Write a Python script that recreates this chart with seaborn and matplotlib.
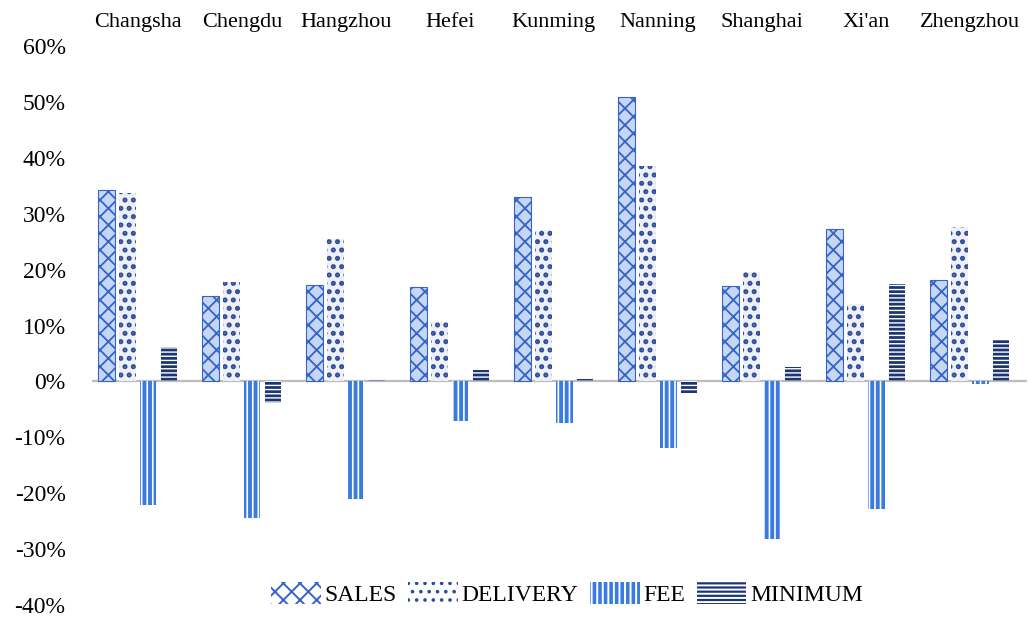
import matplotlib
matplotlib.use("Agg")
import matplotlib.pyplot as plt
import matplotlib.patches as mpatches
from matplotlib.ticker import FuncFormatter
import pandas as pd
import seaborn as sns

cities = ["Changsha", "Chengdu", "Hangzhou", "Hefei", "Kunming",
          "Nanning", "Shanghai", "Xi'an", "Zhengzhou"]
series = ["SALES", "DELIVERY", "FEE", "MINIMUM"]
sales = [34.3, 15.2, 17.3, 16.8, 32.9, 50.9, 17.0, 27.3, 18.1]
delivery = [33.7, 17.7, 25.5, 10.7, 27.1, 38.6, 19.6, 13.8, 27.6]
fee = [-22.1, -24.5, -21.1, -7.1, -7.5, -12.0, -28.2, -22.8, -0.4]
minimum = [6.2, -3.8, 0.2, 2.0, 0.5, -2.0, 2.5, 17.5, 7.4]
yticks = [-40, -30, -20, -10, 0, 10, 20, 30, 40, 50, 60]

sns.set_theme(style="white")
plt.rcParams["font.family"] = ["Liberation Serif", "DejaVu Serif"]
plt.rcParams["text.color"] = "black"
plt.rcParams["xtick.color"] = "black"
plt.rcParams["ytick.color"] = "black"
plt.rcParams["hatch.linewidth"] = 1.4

df = pd.DataFrame({
    "city": cities * 4,
    "series": [s for s in series for _ in cities],
    "value": sales + delivery + fee + minimum,
})

styles = {
    "SALES": dict(face="#c6d6f5", hatch="xx", hcol="#3563c8", lw=0.8, hlw=1.3),
    "DELIVERY": dict(face="#eef0f5", hatch="..", hcol="#2c4c98", lw=0, hlw=2.4),
    "FEE": dict(face="#3b7be0", hatch="|||", hcol="#ffffff", lw=0, hlw=1.2),
    "MINIMUM": dict(face="#1d3670", hatch="----", hcol="#ffffff", lw=0, hlw=1.0),
}


def style_patch(p, st):
    p.set_facecolor(st["face"])
    p.set_edgecolor(st["hcol"])
    p.set_hatch(st["hatch"])
    p.set_linewidth(st["lw"])
    if hasattr(p, "set_hatch_linewidth"):
        p.set_hatch_linewidth(st["hlw"])


fig = plt.figure(figsize=(10.30, 6.17), dpi=100)
ax = fig.add_axes([92 / 1030, 1 - 605 / 617, (1027 - 92) / 1030, (605 - 46) / 617])

sns.barplot(data=df, x="city", y="value", hue="series", order=cities,
            hue_order=series, width=0.8, gap=0.2, ax=ax, legend=False,
            errorbar=None)

for cont, name in zip(ax.containers, series):
    for bar in cont:
        style_patch(bar, styles[name])

ax.axhline(0, color="#bdbdbd", lw=1.6, zorder=0.5)
ax.set_ylim(-40, 60)
ax.set_xlim(-0.44, 8.55)
ax.set_yticks(yticks)
ax.yaxis.set_major_formatter(FuncFormatter(lambda v, p: f"{v:.0f}%"))
ax.tick_params(axis="y", labelsize=17, length=0, pad=19)
ax.xaxis.tick_top()
ax.tick_params(axis="x", labelsize=16, length=0, pad=10)
ax.set_xlabel("")
ax.set_ylabel("")
for sp in ax.spines.values():
    sp.set_visible(False)
ax.grid(False)

handles = []
for name in series:
    h = mpatches.Patch(label=name)
    style_patch(h, styles[name])
    if name in ("SALES", "DELIVERY"):
        h.set_facecolor("white")
        h.set_linewidth(0)
    handles.append(h)
ax.legend(handles=handles, loc="center", bbox_to_anchor=(0.508, 0.02),
          ncol=4, frameon=False, fontsize=17, handlelength=2.1,
          handleheight=1.1, handletextpad=0.15, columnspacing=0.5)

fig.savefig("out.png", dpi=100)
